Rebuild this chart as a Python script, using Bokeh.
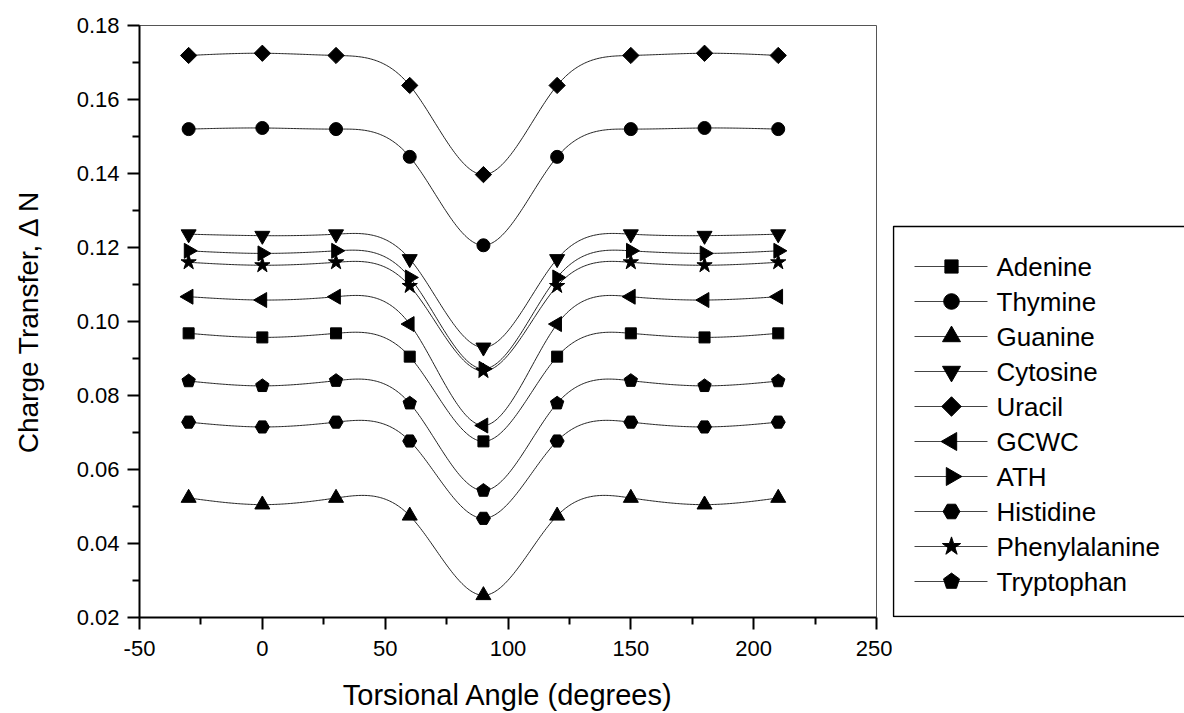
import numpy as np
from bokeh.plotting import figure
from bokeh.layouts import row
from bokeh.core.properties import value
from bokeh.models import Range1d, FixedTicker, PrintfTickFormatter
from bokeh.embed import file_html
from bokeh.resources import INLINE

# ---- data ----
angles = [-30, 0, 30, 60, 90, 120, 150, 180, 210]
adenine = [0.0968, 0.0957, 0.0968, 0.0905, 0.0676, 0.0905, 0.0968, 0.0957, 0.0968]
thymine = [0.1520, 0.1523, 0.1520, 0.1445, 0.1206, 0.1445, 0.1520, 0.1523, 0.1520]
guanine = [0.0523, 0.0505, 0.0523, 0.0475, 0.0260, 0.0475, 0.0523, 0.0505, 0.0523]
cytosine = [0.1236, 0.1232, 0.1236, 0.1169, 0.0930, 0.1169, 0.1236, 0.1232, 0.1236]
uracil = [0.1719, 0.1725, 0.1719, 0.1638, 0.1397, 0.1638, 0.1719, 0.1725, 0.1719]
gcwc = [0.1067, 0.1058, 0.1067, 0.0993, 0.0719, 0.0993, 0.1067, 0.1058, 0.1067]
ath = [0.1191, 0.1184, 0.1191, 0.1119, 0.0872, 0.1119, 0.1191, 0.1184, 0.1191]
histidine = [0.0728, 0.0715, 0.0728, 0.0677, 0.0468, 0.0677, 0.0728, 0.0715, 0.0728]
phenylalanine = [0.1160, 0.1152, 0.1160, 0.1096, 0.0866, 0.1096, 0.1160, 0.1152, 0.1160]
tryptophan = [0.0839, 0.0826, 0.0840, 0.0779, 0.0543, 0.0779, 0.0840, 0.0826, 0.0839]

names = ["Adenine", "Thymine", "Guanine", "Cytosine", "Uracil", "GCWC", "ATH",
         "Histidine", "Phenylalanine", "Tryptophan"]
series = [adenine, thymine, guanine, cytosine, uracil, gcwc, ath,
          histidine, phenylalanine, tryptophan]

x_ticks = [-50, 0, 50, 100, 150, 200, 250]
x_minor = [-25, 25, 75, 125, 175, 225]
y_ticks = [0.02, 0.04, 0.06, 0.08, 0.10, 0.12, 0.14, 0.16, 0.18]
y_minor = [0.03, 0.05, 0.07, 0.09, 0.11, 0.13, 0.15, 0.17]

# marker styles: (marker, size px, angle)
styles = [("square", 11, 0), ("circle", 13, 0), ("triangle", 15, 0),
          ("inverted_triangle", 15, 0), ("square", 11.5, np.pi / 4),
          ("triangle", 15, np.pi / 2), ("triangle", 15, -np.pi / 2),
          ("hex", 14, 0), ("star", 16, 0), ("pentagon", 14, 0)]

FONT = "Liberation Sans"

# layout (pixels)
FRAME_L, FRAME_T, FRAME_W, FRAME_H = 139, 25, 737, 592
TOTAL_H = 713
BOTTOM = TOTAL_H - FRAME_T - FRAME_H
MAIN_W = 892
LEG_W = 1184 - MAIN_W
LEG_TOP = 226


def natural_spline(xs, ys, n=400):
    xs = np.asarray(xs, float)
    ys = np.asarray(ys, float)
    m = len(xs)
    h = np.diff(xs)
    A = np.zeros((m, m))
    b = np.zeros(m)
    A[0, 0] = 1
    A[-1, -1] = 1
    for i in range(1, m - 1):
        A[i, i - 1] = h[i - 1]
        A[i, i] = 2 * (h[i - 1] + h[i])
        A[i, i + 1] = h[i]
        b[i] = 6 * ((ys[i + 1] - ys[i]) / h[i] - (ys[i] - ys[i - 1]) / h[i - 1])
    M = np.linalg.solve(A, b)
    xx = np.linspace(xs[0], xs[-1], n)
    yy = np.empty_like(xx)
    for k, t in enumerate(xx):
        i = int(np.clip(np.searchsorted(xs, t, side="right") - 1, 0, m - 2))
        hi = h[i]
        a = (xs[i + 1] - t) / hi
        bb = (t - xs[i]) / hi
        yy[k] = (a * ys[i] + bb * ys[i + 1]
                 + ((a ** 3 - a) * M[i] + (bb ** 3 - bb) * M[i + 1]) * hi * hi / 6)
    return xx, yy


def pentagons(fig, xs, ys, r_px, ux, uy):
    """filled pentagons of screen radius r_px, ux/uy = data units per pixel"""
    th = np.pi / 2 + np.arange(5) * 2 * np.pi / 5
    px = [list(x + r_px * ux * np.cos(th)) for x in xs]
    py = [list(y + r_px * uy * np.sin(th)) for y in ys]
    return fig.patches(px, py, fill_color="black", line_color="black", line_width=1)


xr = Range1d(-50, 250)
yr = Range1d(0.02, 0.18)
p = figure(width=MAIN_W, height=TOTAL_H, x_range=xr, y_range=yr,
           output_backend="svg", toolbar_location=None,
           min_border_left=FRAME_L, min_border_top=FRAME_T,
           min_border_bottom=BOTTOM,
           min_border_right=MAIN_W - FRAME_L - FRAME_W)
p.grid.visible = False
p.outline_line_color = "#555555"
p.outline_line_width = 1

for ax in (p.xaxis[0], p.yaxis[0]):
    ax.axis_line_width = 2
    ax.axis_line_color = "black"
    ax.major_tick_line_width = 2
    ax.minor_tick_line_width = 2
    ax.major_tick_in = 0
    ax.major_tick_out = 12
    ax.minor_tick_in = 0
    ax.minor_tick_out = 7
    ax.major_label_text_font = FONT
    ax.major_label_text_font_size = "22px"
    ax.major_label_text_color = "black"
    ax.axis_label_text_font = FONT
    ax.axis_label_text_font_style = "normal"
    ax.axis_label_text_color = "black"

p.xaxis.ticker = FixedTicker(ticks=x_ticks, minor_ticks=x_minor)
p.yaxis.ticker = FixedTicker(ticks=y_ticks, minor_ticks=y_minor)
p.xaxis.formatter = PrintfTickFormatter(format="%d")
p.yaxis.formatter = PrintfTickFormatter(format="%.2f")
p.xaxis.axis_label = "Torsional Angle (degrees)"
p.yaxis.axis_label = "Charge Transfer, \u0394 N"
p.xaxis.axis_label_text_font_size = "29px"
p.yaxis.axis_label_text_font_size = "28px"
p.xaxis.major_label_standoff = 11
p.yaxis.major_label_standoff = 8
p.xaxis.axis_label_standoff = 20
p.yaxis.axis_label_standoff = 30

ux = (xr.end - xr.start) / FRAME_W
uy = (yr.end - yr.start) / FRAME_H

for vals in series:
    xx, yy = natural_spline(angles, vals)
    p.line(xx, yy, line_color="#222222", line_width=1)

for name, vals, (mk, sz, ang) in zip(names, series, styles):
    if mk == "pentagon":
        pentagons(p, angles, vals, sz / 2, ux, uy)
    else:
        p.scatter(angles, vals, marker=mk, size=sz, angle=ang,
                  fill_color="black", line_color="black")

# ---- legend panel (same frame top/bottom as the main plot; 1 data unit = 1 px) ----
leg = figure(width=LEG_W, height=TOTAL_H, x_range=Range1d(0, LEG_W),
             y_range=Range1d(0, FRAME_H), output_backend="svg", toolbar_location=None,
             x_axis_type=None, y_axis_type=None,
             min_border_left=0, min_border_right=0, min_border_top=FRAME_T,
             min_border_bottom=BOTTOM)
leg.grid.visible = False
leg.outline_line_color = None
leg.background_fill_color = "white"

box_top = FRAME_T + FRAME_H - LEG_TOP
leg.quad(left=[1], right=[LEG_W + 10], bottom=[1], top=[box_top],
         fill_color=None, line_color="black", line_width=1.5)

row_y = [box_top - 40 - 35 * i for i in range(len(names))]
line_x0, line_x1, mark_x, text_x = 22, 95, 59, 104
for yy_, name, (mk, sz, ang) in zip(row_y, names, styles):
    leg.line([line_x0, line_x1], [yy_, yy_], line_color="#444444", line_width=1)
    lsz = sz * 1.2
    if mk == "pentagon":
        pentagons(leg, [mark_x], [yy_], lsz / 2, 1, 1)
    else:
        leg.scatter([mark_x], [yy_], marker=mk, size=lsz, angle=ang,
                    fill_color="black", line_color="black")
leg.text(x=[text_x] * len(names), y=row_y, text=names, text_font=value(FONT),
         text_font_size="26px", text_baseline="middle", text_align="left",
         text_color="black")

layout = row(p, leg)
open("out.html", "w").write(file_html(layout, INLINE))
